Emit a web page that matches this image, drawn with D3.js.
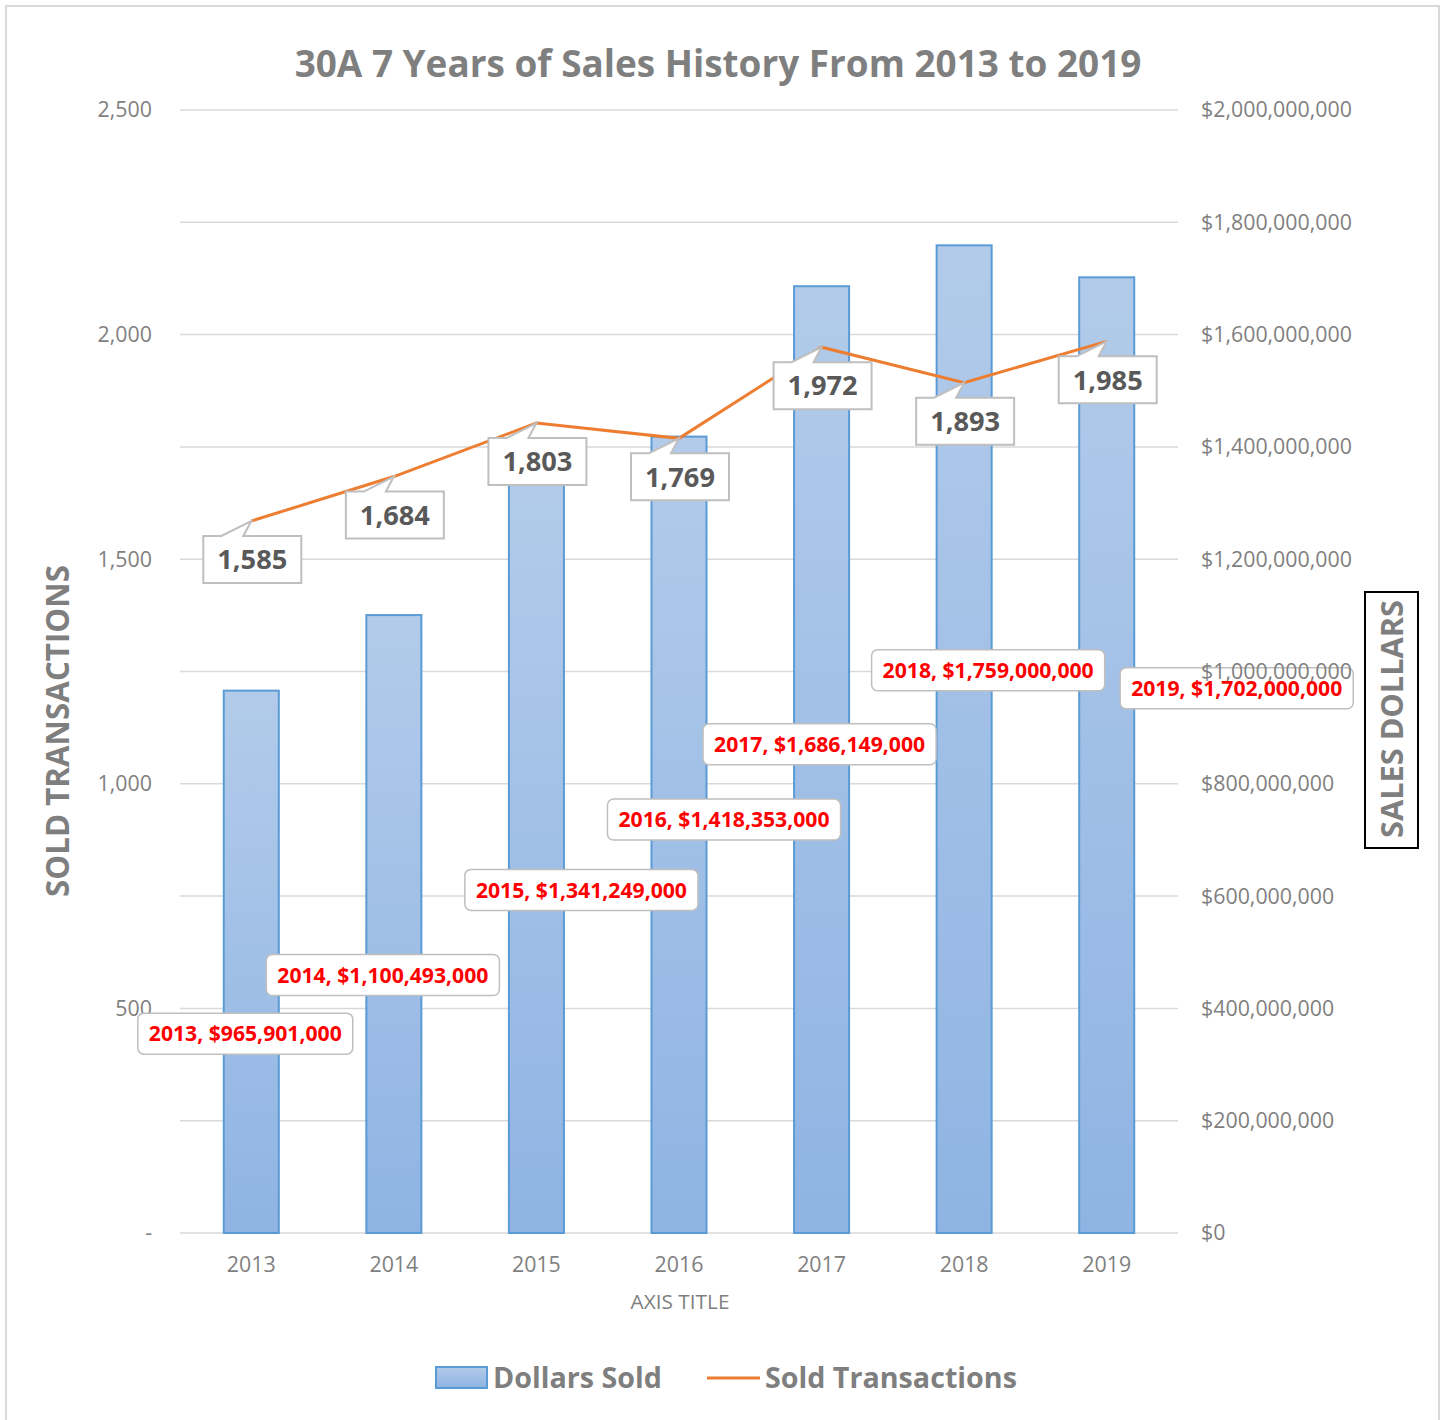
<!DOCTYPE html>
<html><head><meta charset="utf-8">
<script src="https://cdn.jsdelivr.net/npm/d3@7"></script>
<style>body{margin:0;background:#fff}svg{display:block}</style>
</head><body>
<svg id="c" width="1444" height="1420"></svg>
<script>
const years = ["2013","2014","2015","2016","2017","2018","2019"];
const dollarsSold = [965901000, 1100493000, 1341249000, 1418353000, 1686149000, 1759000000, 1702000000];
const soldTransactions = [1585, 1684, 1803, 1769, 1972, 1893, 1985];
const leftTicks = [0, 500, 1000, 1500, 2000, 2500];
const rightTicks = [0,200e6,400e6,600e6,800e6,1000e6,1200e6,1400e6,1600e6,1800e6,2000e6];
const titleText = "30A 7 Years of Sales History From 2013 to 2019";
const leftTitle = "SOLD TRANSACTIONS";
const rightTitle = "SALES DOLLARS";
const xTitle = "AXIS TITLE";
const legendNames = ["Dollars Sold", "Sold Transactions"];
// label placement offsets (pixels) relative to each bar's top-center
const dollarLabelOffsets = [[-6,343],[-11,360],[45,410],[45,383],[-2,458],[24,425],[130,411]];

const FONT = "'Open Sans', 'DejaVu Sans', sans-serif";
const svg = d3.select("#c");

function fitSize(txt, weight, target){
  const t = svg.append("text").attr("font-family",FONT).attr("font-weight",weight)
    .attr("font-size",100).text(txt);
  const w = t.node().getComputedTextLength(); t.remove();
  return 100*target/w;
}

const L = 180, R = 1178, T = 110, B = 1233;
const x = d3.scalePoint().domain(years).range([L,R]).padding(0.5);
const yL = d3.scaleLinear().domain([0,2500]).range([B,T]);
const yR = d3.scaleLinear().domain([0,2000e6]).range([B,T]);
const barW = x.step()*0.386;

// frame
svg.append("rect").attr("x",6).attr("y",6).attr("width",1433).attr("height",1430)
  .attr("fill","#fff").attr("stroke","#d9d9d9").attr("stroke-width",2);

// gradient
const defs = svg.append("defs");
const g = defs.append("linearGradient").attr("id","barGrad").attr("x1",0).attr("y1",0).attr("x2",0).attr("y2",1);
g.append("stop").attr("offset","0%").attr("stop-color","#b2cbea");
g.append("stop").attr("offset","100%").attr("stop-color","#8fb4e3");

// gridlines
svg.append("g").selectAll("line").data(rightTicks).join("line")
  .attr("x1",L).attr("x2",R).attr("y1",d=>yR(d)).attr("y2",d=>yR(d))
  .attr("stroke","#d9d9d9").attr("stroke-width",1.5);

// tick labels
const tickSize = fitSize("$2,000,000,000", 400, 151);
svg.append("g").selectAll("text").data(leftTicks).join("text")
  .attr("x",152).attr("y",d=>yL(d)).attr("dy","0.35em").attr("text-anchor","end")
  .attr("font-family",FONT).attr("font-size",tickSize).attr("fill","#7f7f7f")
  .text(d=> d===0 ? "-" : d3.format(",")(d));
svg.append("g").selectAll("text").data(years).join("text")
  .attr("x",d=>x(d)).attr("y",1265).attr("dy","0.35em").attr("text-anchor","middle")
  .attr("font-family",FONT).attr("font-size",tickSize).attr("fill","#7f7f7f").text(d=>d);
svg.append("text").attr("x",680).attr("y",1302).attr("dy","0.35em").attr("text-anchor","middle")
  .attr("font-family",FONT).attr("font-size",fitSize(xTitle,400,99)).attr("fill","#7f7f7f").text(xTitle);

// bars
svg.append("g").selectAll("rect").data(dollarsSold).join("rect")
  .attr("x",(d,i)=>x(years[i])-barW/2).attr("width",barW)
  .attr("y",d=>yR(d)).attr("height",d=>B-yR(d))
  .attr("fill","url(#barGrad)").attr("stroke","#5b9bd5").attr("stroke-width",2);

// line
const line = d3.line().x((d,i)=>x(years[i])).y(d=>yL(d));
svg.append("path").datum(soldTransactions).attr("d",line)
  .attr("fill","none").attr("stroke","#ed7d31").attr("stroke-width",3);

// callouts for line
const calloutSize = fitSize("1,585", 700, 70);
const cg = svg.append("g");
soldTransactions.forEach((v,i)=>{
  const xp = x(years[i]), yp = yL(v);
  const bl = xp-48, br = xp+50, bt = yp+15, bb = yp+62;
  const p = `M${bl},${bt} L${xp-30},${bt} L${xp},${yp} L${xp-8},${bt} L${br},${bt} L${br},${bb} L${bl},${bb} Z`;
  cg.append("path").attr("d",p).attr("fill","#fff").attr("stroke","#bfbfbf").attr("stroke-width",2);
  cg.append("text").attr("x",(bl+br)/2).attr("y",(bt+bb)/2).attr("dy","0.36em").attr("text-anchor","middle")
    .attr("font-family",FONT).attr("font-weight",700).attr("font-size",calloutSize).attr("fill","#595959")
    .text(d3.format(",")(v));
});

// dollar labels: boxes layer, then right-axis ticks, then red texts
const redSize = fitSize("2013, $965,901,000", 700, 193);
const boxG = svg.append("g");
const rTickG = svg.append("g");
const txtG = svg.append("g");
dollarsSold.forEach((v,i)=>{
  const cx = x(years[i]) + dollarLabelOffsets[i][0];
  const cy = yR(v) + dollarLabelOffsets[i][1];
  const txt = years[i] + ", $" + d3.format(",")(v);
  const t = txtG.append("text").attr("x",cx).attr("y",cy).attr("dy","0.36em").attr("text-anchor","middle")
    .attr("font-family",FONT).attr("font-weight",700).attr("font-size",redSize).attr("fill","#ff0000").text(txt);
  const w = t.node().getComputedTextLength();
  boxG.append("rect").attr("x",cx-w/2-11).attr("y",cy-20.5).attr("width",w+22).attr("height",41)
    .attr("rx",6).attr("fill","#fff").attr("stroke","#bfbfbf").attr("stroke-width",1.5);
});
rTickG.selectAll("text").data(rightTicks).join("text")
  .attr("x",1201).attr("y",d=>yR(d)).attr("dy","0.35em").attr("text-anchor","start")
  .attr("font-family",FONT).attr("font-size",tickSize).attr("fill","#7f7f7f")
  .text(d=> "$"+d3.format(",")(d));

// title
svg.append("text").attr("x",718).attr("y",64).attr("dy","0.35em").attr("text-anchor","middle")
  .attr("font-family",FONT).attr("font-weight",700).attr("font-size",fitSize(titleText,700,847))
  .attr("fill","#7f7f7f").text(titleText);

// axis titles
svg.append("text").attr("transform","translate(58,731) rotate(-90)").attr("dy","0.35em").attr("text-anchor","middle")
  .attr("font-family",FONT).attr("font-weight",700).attr("font-size",fitSize(leftTitle,700,332))
  .attr("fill","#7f7f7f").text(leftTitle);
svg.append("rect").attr("x",1365).attr("y",592).attr("width",53).attr("height",256)
  .attr("fill","#fff").attr("stroke","#000").attr("stroke-width",2);
svg.append("text").attr("transform","translate(1392,719) rotate(-90)").attr("dy","0.35em").attr("text-anchor","middle")
  .attr("font-family",FONT).attr("font-weight",700).attr("font-size",fitSize(rightTitle,700,238))
  .attr("fill","#7f7f7f").text(rightTitle);

// legend
const legSize = fitSize(legendNames[0],700,169);
svg.append("rect").attr("x",436).attr("y",1367).attr("width",51).attr("height",21)
  .attr("fill","url(#barGrad)").attr("stroke","#5b9bd5").attr("stroke-width",2);
svg.append("text").attr("x",493).attr("y",1378).attr("dy","0.35em")
  .attr("font-family",FONT).attr("font-weight",700).attr("font-size",legSize).attr("fill","#7f7f7f").text(legendNames[0]);
svg.append("line").attr("x1",707).attr("x2",760).attr("y1",1378).attr("y2",1378)
  .attr("stroke","#ed7d31").attr("stroke-width",3);
svg.append("text").attr("x",765).attr("y",1378).attr("dy","0.35em")
  .attr("font-family",FONT).attr("font-weight",700).attr("font-size",legSize).attr("fill","#7f7f7f").text(legendNames[1]);
</script>
</body></html>
